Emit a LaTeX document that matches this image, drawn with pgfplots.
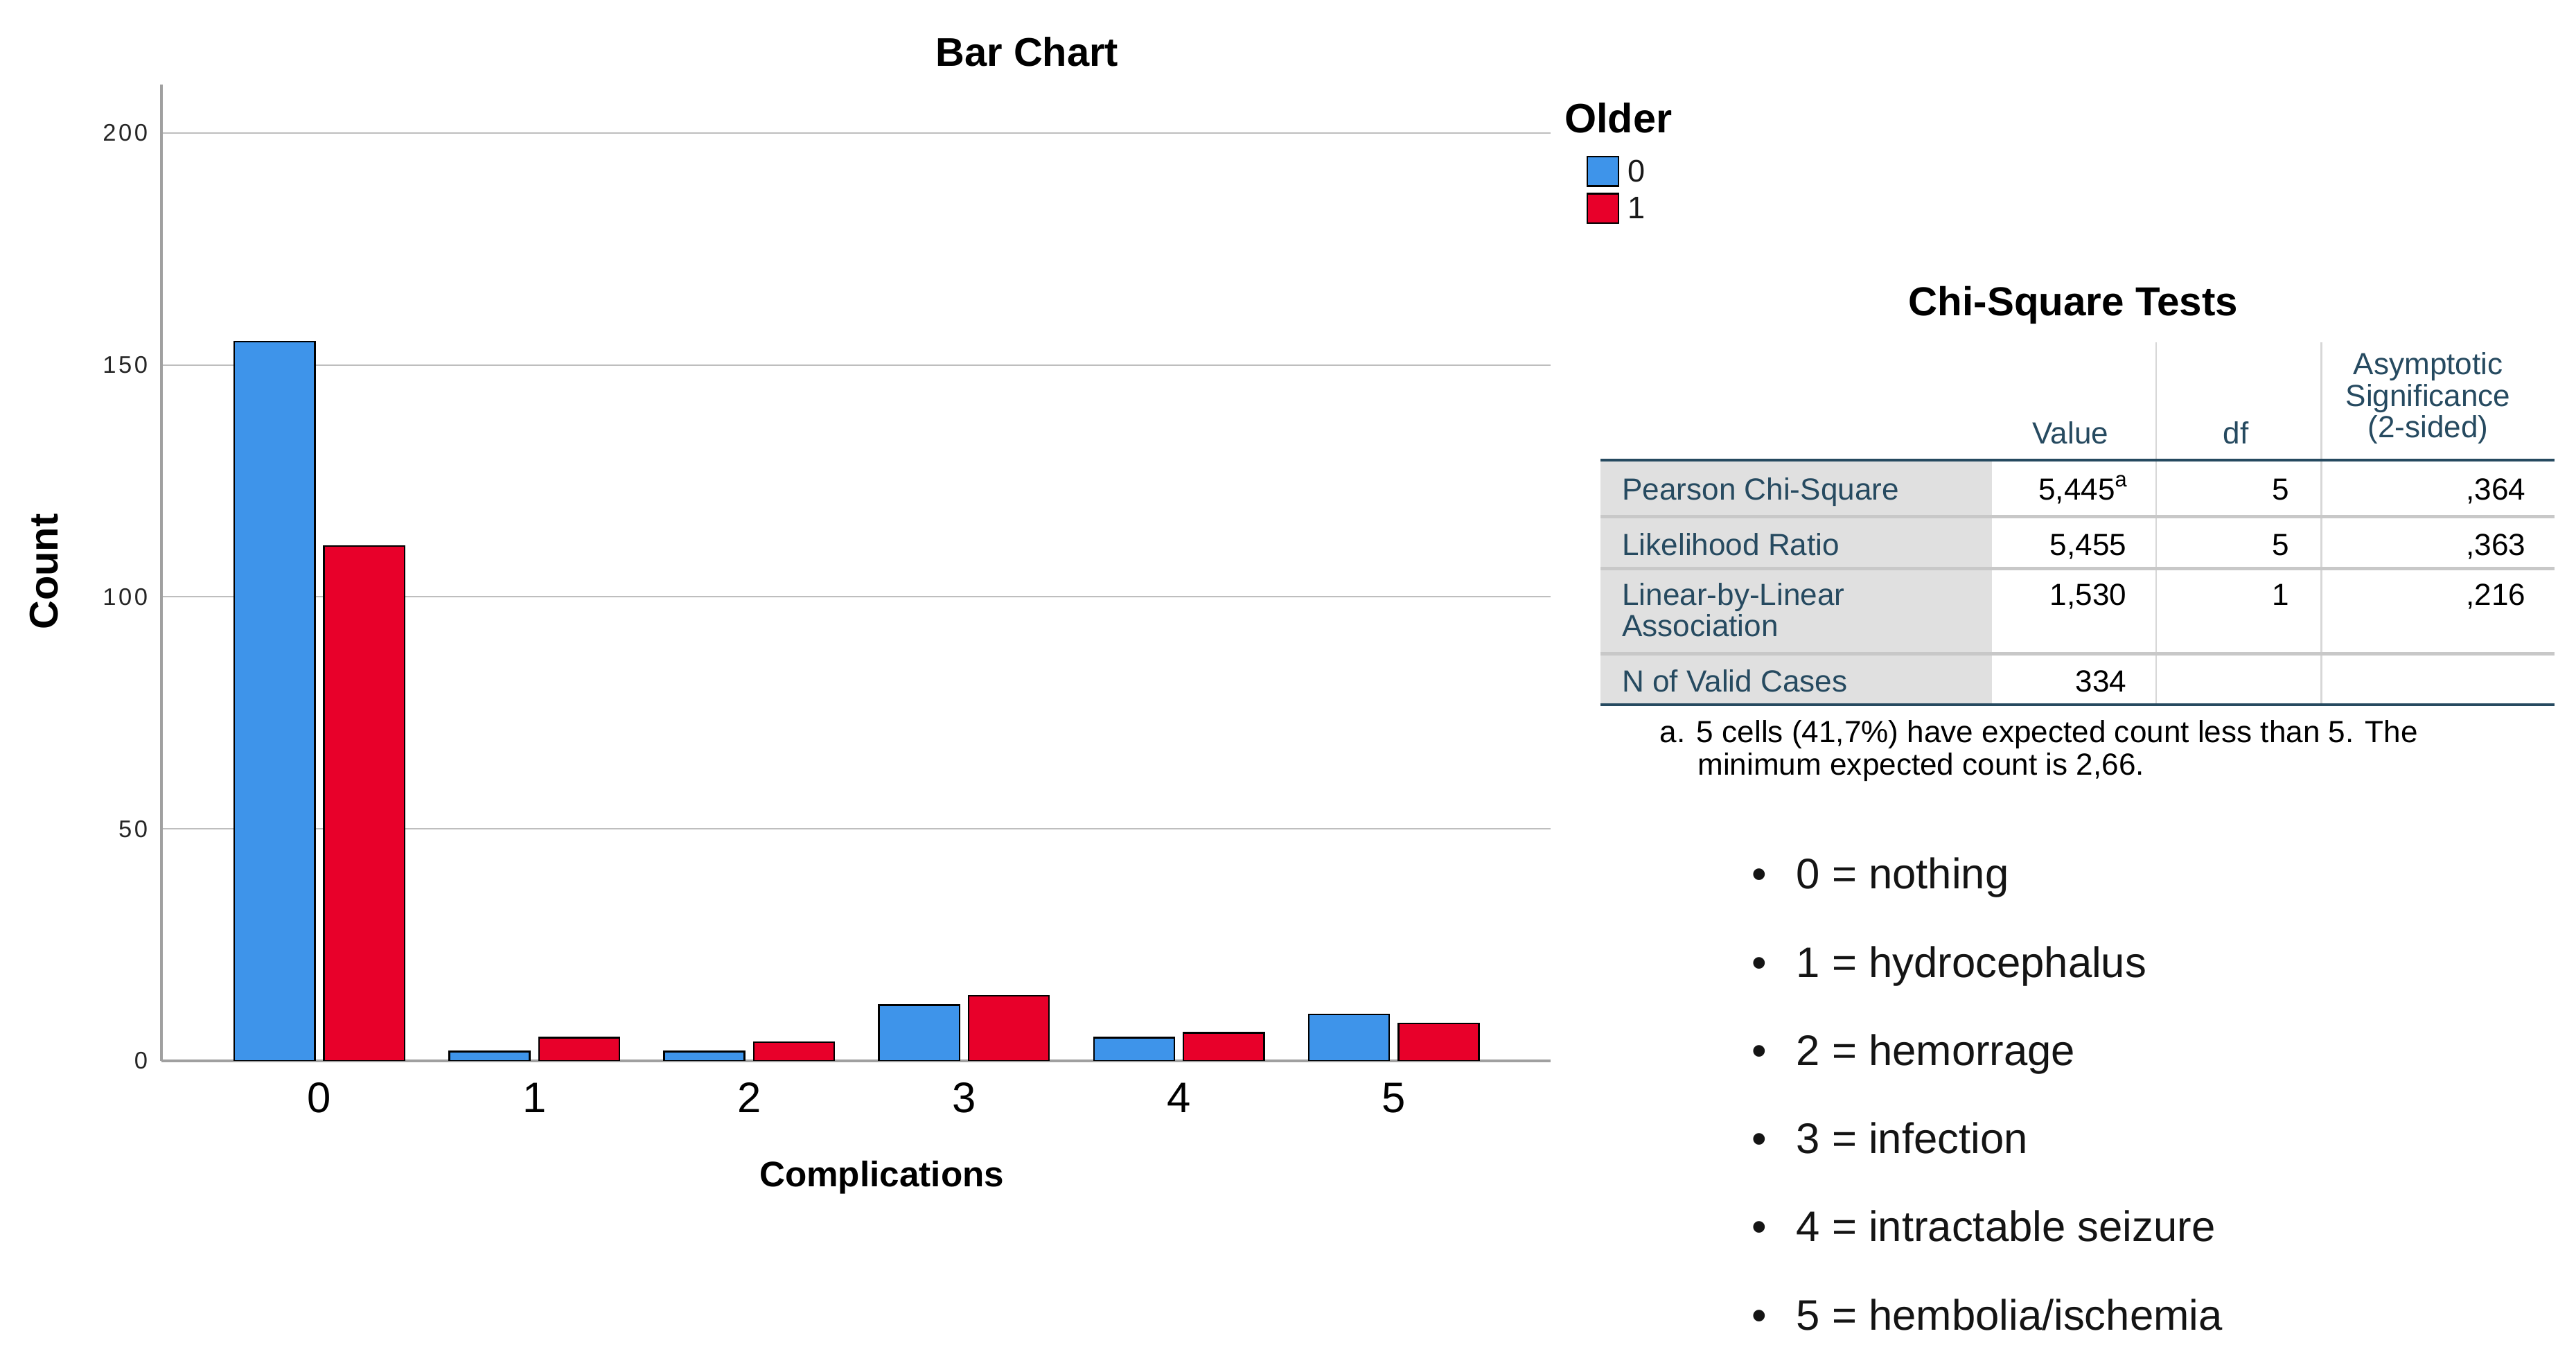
\documentclass[border=0pt]{standalone}
\usepackage{fontspec}
\setmainfont{Liberation Sans}
\newfontfamily\tickfont[LetterSpace=10]{Liberation Sans}
\usepackage{pgfplots}
\pgfplotsset{compat=1.18}

\definecolor{spssblue}{RGB}{62,148,234}
\definecolor{spssred}{RGB}{232,0,42}
\definecolor{tabteal}{RGB}{38,74,96}
\definecolor{tabgray}{RGB}{224,224,224}
\definecolor{tabline}{RGB}{200,200,200}
\definecolor{tabvline}{RGB}{215,215,215}
\definecolor{axisgray}{RGB}{160,160,160}
\definecolor{gridgray}{RGB}{190,190,190}

\newcommand{\tabfont}{\fontsize{9.3}{11}\selectfont}

\begin{document}
\begin{tikzpicture}
\begin{scope}[x=0.5pt,y=-0.5pt]
\useasboundingbox (0,0) rectangle (1568,824);
\end{scope}

\begin{axis}[
  at={(49.15pt,-322.8pt)}, anchor=south west,
  scale only axis, width=422.85pt, height=297.15pt,
  xmin=-0.735, xmax=5.731, ymin=0, ymax=210.5,
  axis lines*=left,
  axis line style={draw=axisgray, line width=0.9pt},
  ymajorgrids, grid style={draw=gridgray, line width=0.45pt},
  major tick length=0pt,
  ytick={0,50,100,150,200},
  xtick={0,1,2,3,4,5},
  /pgf/number format/assume math mode=true,
  yticklabel style={font=\tickfont\fontsize{7.3}{8}\selectfont, text=black!85, inner sep=0pt, xshift=-4pt},
  xticklabel style={font=\fontsize{13}{15}\selectfont, inner sep=0pt, yshift=-6.5pt},
  ybar=2.8pt, bar width=24.5pt,
  legend style={at={(axis description cs:1.0255,0.927)}, anchor=north west,
    draw=none, fill=none, inner sep=0pt, outer sep=0pt,
    row sep=1.8pt, column sep=2.6pt,
    font=\fontsize{9.5}{10}\selectfont,
    nodes={inner sep=0pt, text=black!90}},
  legend cell align=left,
]
\addplot[fill=spssblue, draw=black, line width=0.5pt,
  legend image code/.code={\draw[fill=spssblue, draw=black, line width=0.5pt] (0pt,-3.8pt) rectangle (9.5pt,5.2pt);}]
  coordinates {(0,155) (1,2) (2,2) (3,12) (4,5) (5,10)};
\addplot[fill=spssred, draw=black, line width=0.5pt,
  legend image code/.code={\draw[fill=spssred, draw=black, line width=0.5pt] (0pt,-3.8pt) rectangle (9.5pt,5.2pt);}]
  coordinates {(0,111) (1,5) (2,4) (3,14) (4,6) (5,8)};
\legend{0,1}
\end{axis}

\begin{scope}[x=0.5pt,y=-0.5pt]
% chart titles
\node[anchor=base, font=\bfseries\fontsize{12.2}{14}\selectfont] at (625.2,40.1) {Bar Chart};
\node[anchor=base, font=\bfseries\fontsize{10.8}{13}\selectfont] at (536.7,722) {Complications};
\node[anchor=base, rotate=90, font=\bfseries\fontsize{12.2}{14}\selectfont] at (35.1,348) {Count};
\node[anchor=base west, inner sep=0pt, font=\bfseries\fontsize{12.5}{14}\selectfont] at (952,80.6) {Older};

% table
\fill[tabgray] (974,280) rectangle (1212.6,429);
\draw[tabvline, line width=0.45pt] (1312.5,208.5) -- (1312.5,429);
\draw[tabvline, line width=0.45pt] (1413,208.5) -- (1413,429);
\draw[tabline, line width=1pt] (974,314.3) -- (1555,314.3);
\draw[tabline, line width=1pt] (974,346) -- (1555,346);
\draw[tabline, line width=1pt] (974,398) -- (1555,398);
\draw[tabteal, line width=0.9pt] (974,280) -- (1555,280);
\draw[tabteal, line width=0.9pt] (974,429) -- (1555,429);

\node[anchor=base, font=\bfseries\fontsize{12.3}{14}\selectfont] at (1262,192) {Chi-Square Tests};

\begin{scope}[every node/.style={inner sep=0pt, font=\tabfont}]
\node[anchor=base, text=tabteal] at (1260.3,270.2) {Value};
\node[anchor=base, text=tabteal] at (1361,270.2) {df};
\node[anchor=base, text=tabteal] at (1478,228) {Asymptotic};
\node[anchor=base, text=tabteal] at (1478,247.5) {Significance};
\node[anchor=base, text=tabteal] at (1478,266.5) {(2-sided)};

\node[anchor=base west, text=tabteal] at (987,304.1) {Pearson Chi-Square};
\node[anchor=base west, text=tabteal] at (987,338) {Likelihood Ratio};
\node[anchor=base west, text=tabteal] at (987,368.2) {Linear-by-Linear};
\node[anchor=base west, text=tabteal] at (987,387.3) {Association};
\node[anchor=base west, text=tabteal] at (987,421.2) {N of Valid Cases};

\node[anchor=base east] at (1296,304.1) {5,445\textsuperscript{a}};
\node[anchor=base east] at (1294.8,338) {5,455};
\node[anchor=base east] at (1294.8,368.2) {1,530};
\node[anchor=base east] at (1294.8,421.2) {334};

\node[anchor=base east] at (1394,304.1) {5};
\node[anchor=base east] at (1394,338) {5};
\node[anchor=base east] at (1394,368.2) {1};

\node[anchor=base east] at (1537.8,304.1) {,364};
\node[anchor=base east] at (1537.8,338) {,363};
\node[anchor=base east] at (1537.8,368.2) {,216};

\node[anchor=base west] at (1010,452) {a. 5 cells (41,7\%) have expected count less than 5. The};
\node[anchor=base west] at (1033,471.5) {minimum expected count is 2,66.};
\end{scope}

% bullet list
\begin{scope}[every node/.style={inner sep=0pt, font=\fontsize{13}{15}\selectfont, text=black!92}]
\foreach \yy/\txt in {540.9/{0 = nothing}, 594.7/{1 = hydrocephalus}, 648.5/{2 = hemorrage}, 701.8/{3 = infection}, 755.4/{4 = intractable seizure}, 809.4/{5 = hembolia/ischemia}} {
  \node[anchor=base] at (1071,\yy) {\textbullet};
  \node[anchor=base west] at (1093,\yy) {\txt};
}
\end{scope}
\end{scope}
\end{tikzpicture}
\end{document}
